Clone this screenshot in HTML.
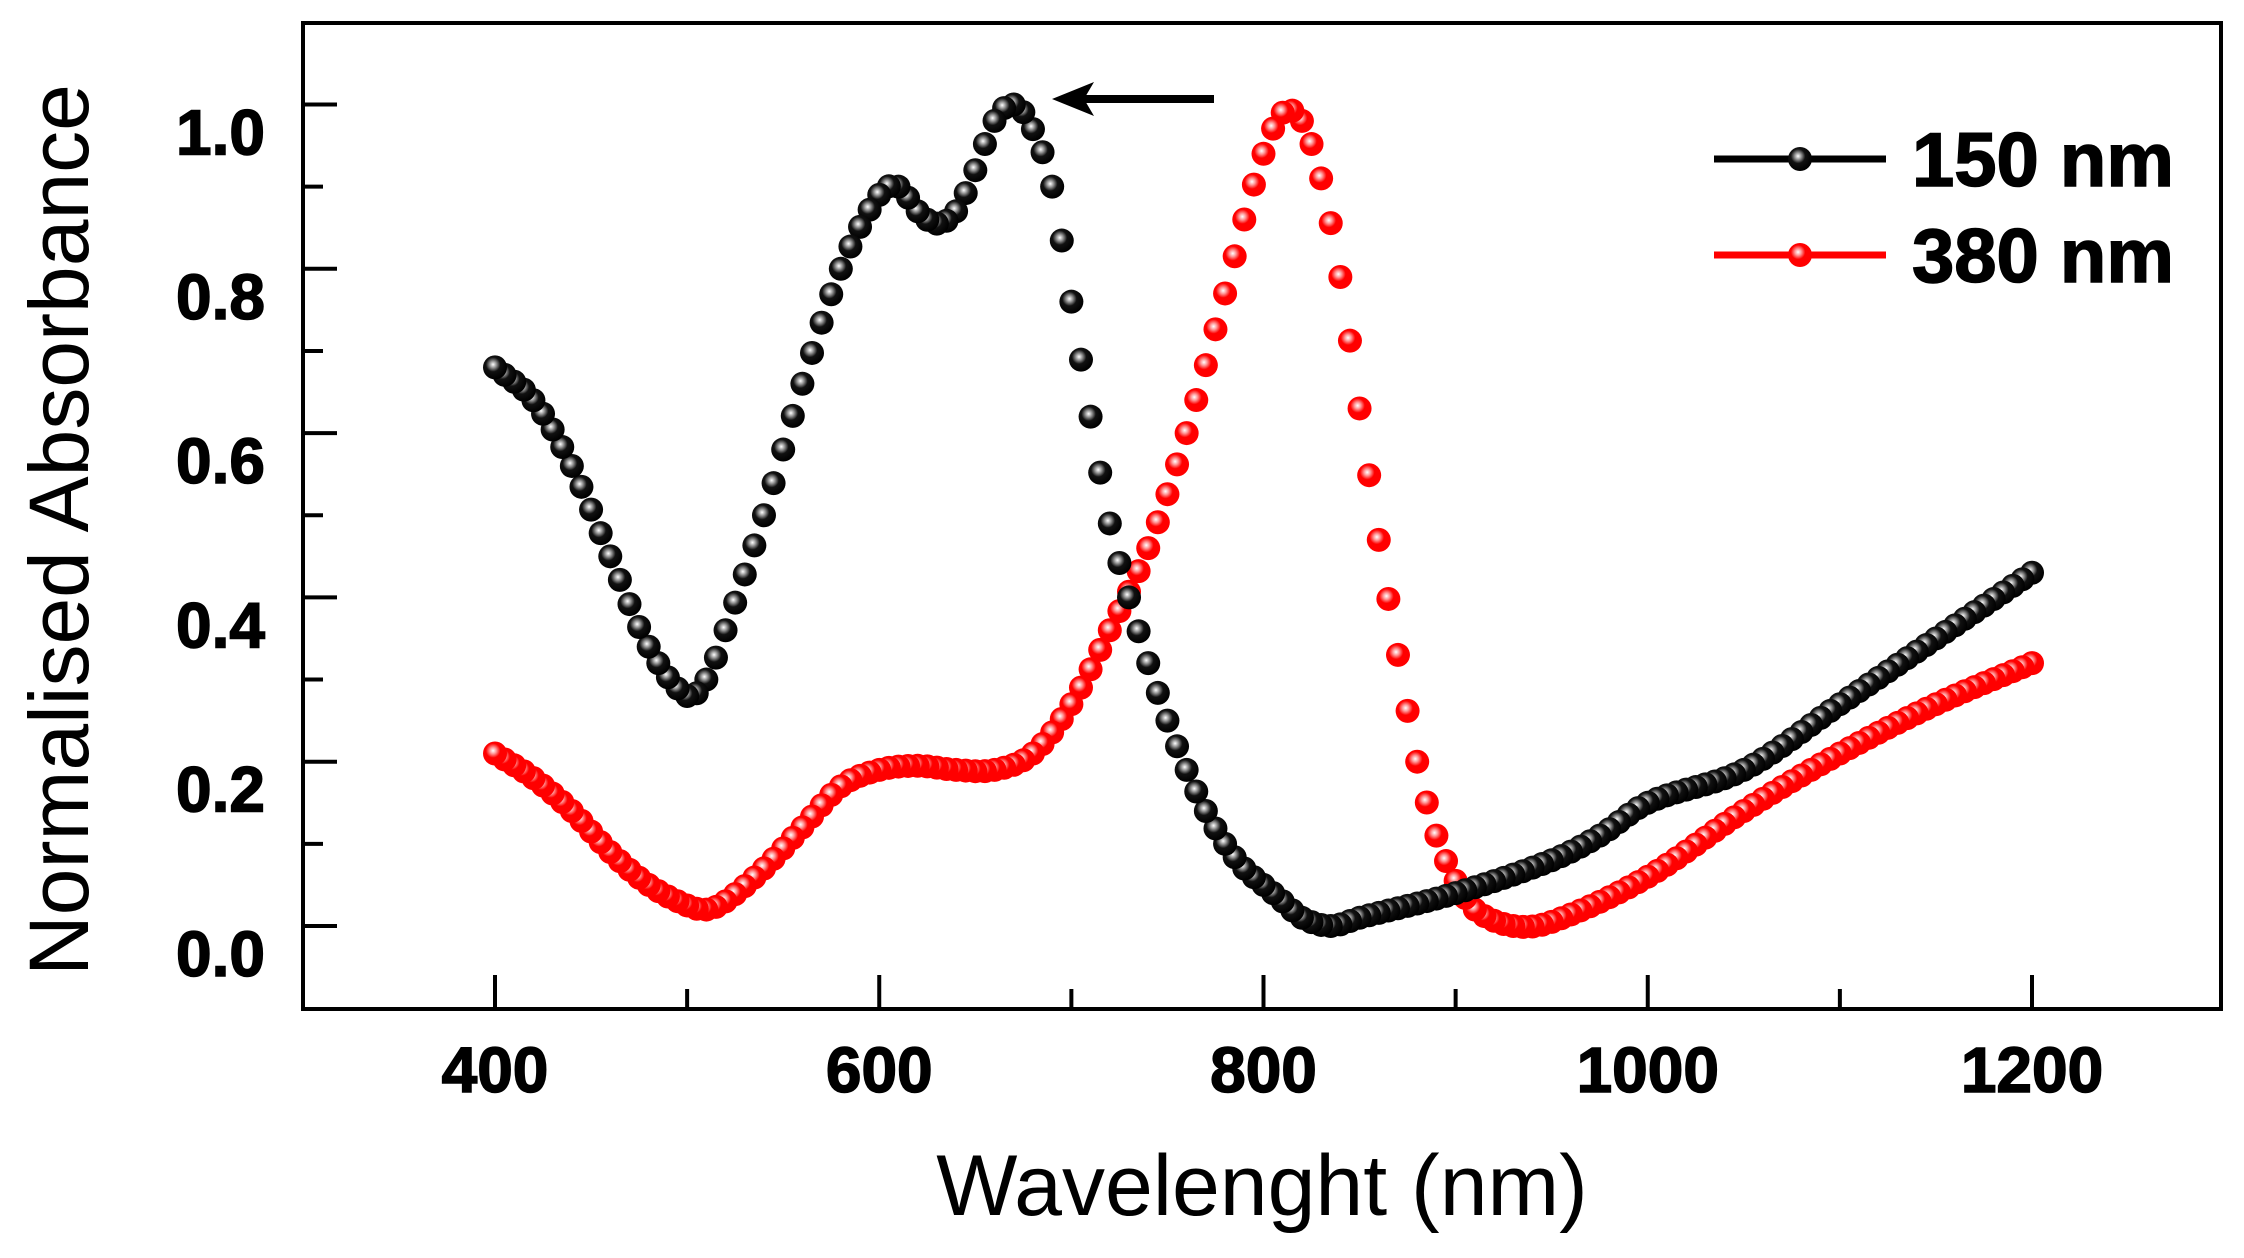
<!DOCTYPE html>
<html><head><style>
body{margin:0;background:#fff}
svg{display:block}
text{font-family:"Liberation Sans",Arial,sans-serif}
</style></head><body>
<svg id="s" width="2244" height="1258" viewBox="0 0 2244 1258" xmlns="http://www.w3.org/2000/svg">
<defs>
<radialGradient id="gb" cx="0.42" cy="0.38" r="0.6">
<stop offset="0" stop-color="#fff"/><stop offset="0.22" stop-color="#999"/><stop offset="0.5" stop-color="#111"/><stop offset="1" stop-color="#000"/></radialGradient>
<radialGradient id="gr" cx="0.42" cy="0.38" r="0.6">
<stop offset="0" stop-color="#fff"/><stop offset="0.22" stop-color="#ff9a9a"/><stop offset="0.5" stop-color="#f00"/><stop offset="1" stop-color="#f00"/></radialGradient>
</defs>
<rect x="303" y="23" width="1918" height="986" fill="none" stroke="#000" stroke-width="4"/>
<g id="ticks" stroke="#000" stroke-width="4"></g>
<g font-weight="bold" font-size="64" text-anchor="end" id="ylab" stroke="#000" stroke-width="1.5"></g>
<g font-weight="bold" font-size="64" text-anchor="middle" id="xlab" stroke="#000" stroke-width="1.5"></g>
<text x="1262" y="1215" font-size="86" text-anchor="middle">Wavelenght (nm)</text>
<text transform="translate(88,530) rotate(-90)" font-size="84" text-anchor="middle">Normalised Absorbance</text>
<g id="data"></g>
<line x1="1214" y1="99" x2="1080" y2="99" stroke="#000" stroke-width="8"/>
<polygon points="1052,99 1094,82 1084,99 1094,116" fill="#000"/>
<line x1="1714" y1="159" x2="1886" y2="159" stroke="#000" stroke-width="7"/>
<circle cx="1800" cy="159" r="12" fill="url(#gb)"/>
<text x="1912" y="186" font-size="76" font-weight="bold" stroke="#000" stroke-width="1.5">150 nm</text>
<line x1="1714" y1="255" x2="1886" y2="255" stroke="#f00" stroke-width="7"/>
<circle cx="1800" cy="255" r="12" fill="url(#gr)"/>
<text x="1912" y="282" font-size="76" font-weight="bold" stroke="#000" stroke-width="1.5">380 nm</text>
</svg>
<script>
var NS="http://www.w3.org/2000/svg";
function X(n){return 495+(n-400)*1537/800;}
function Y(v){return 926-v*821.5;}
function el(p,t,a,txt){var e=document.createElementNS(NS,t);for(var k in a)e.setAttribute(k,a[k]);if(txt)e.textContent=txt;document.getElementById(p).appendChild(e);}
for(var i=0;i<=10;i++){var y=Y(i/10);if(y<23)continue;el("ticks","line",{x1:303,x2:303+(i%2?20:34),y1:y,y2:y});}
for(var v=0;v<=1.001;v+=0.2)el("ylab","text",{x:265,y:Y(v)+50},v.toFixed(1));
for(var n=400;n<=1200;n+=100){var x=X(n);el("ticks","line",{x1:x,x2:x,y1:1009,y2:1009-(n%200?20:34)});}
for(var n=400;n<=1200;n+=200)el("xlab","text",{x:X(n),y:1092},n);
var blk=[[400,.68],[420,.64],[440,.56],[460,.45],[480,.34],[500,.28],[510,.30],[520,.36],[540,.50],[560,.66],[580,.80],[600,.89],[610,.9],[620,.87],[630,.855],[640,.87],[650,.92],[660,.98],[670,1],[680,.97],[690,.9],[700,.76],[710,.62],[720,.49],[730,.4],[740,.32],[750,.25],[760,.19],[770,.14],[780,.1],[790,.07],[800,.05],[810,.03],[820,.01],[835,0],[850,.01],[900,.04],[950,.08],[975,.11],[1000,.15],[1050,.19],[1100,.27],[1150,.35],[1200,.43]];
var red=[[400,.21],[420,.18],[440,.14],[460,.09],[480,.05],[500,.025],[510,.02],[520,.03],[540,.07],[560,.12],[580,.17],[600,.19],[620,.195],[640,.19],[660,.19],[680,.21],[700,.27],[720,.36],[740,.46],[760,.6],[780,.77],[790,.86],[800,.94],[810,.99],[820,.98],[830,.91],[840,.79],[850,.63],[860,.47],[870,.33],[880,.2],[890,.11],[900,.055],[910,.02],[930,0],[950,.005],[1000,.06],[1050,.14],[1100,.21],[1150,.27],[1200,.32]];
function interp(d,n){for(var i=0;i<d.length-1;i++){if(n<=d[i+1][0]){var p0=d[Math.max(i-1,0)],p1=d[i],p2=d[i+1],p3=d[Math.min(i+2,d.length-1)];var t=(n-p1[0])/(p2[0]-p1[0]);var m1=(p2[1]-p0[1])/(p2[0]-p0[0])*(p2[0]-p1[0]);var m2=(p3[1]-p1[1])/(p3[0]-p1[0])*(p2[0]-p1[0]);var t2=t*t,t3=t2*t;return (2*t3-3*t2+1)*p1[1]+(t3-2*t2+t)*m1+(-2*t3+3*t2)*p2[1]+(t3-t2)*m2;}}return d[d.length-1][1];}
function draw(d,g){for(var n=1200;n>=400;n-=5)el("data","circle",{cx:X(n),cy:Y(interp(d,n)),r:12,fill:g});}
draw(red,"url(#gr)");draw(blk,"url(#gb)");
</script>
</body></html>
